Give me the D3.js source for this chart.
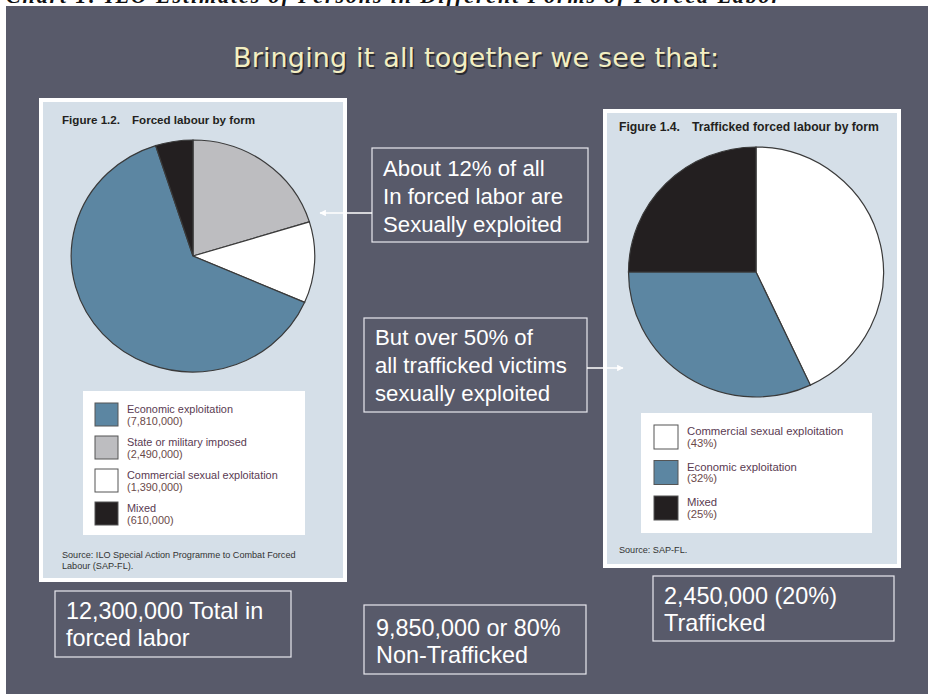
<!DOCTYPE html>
<html>
<head>
<meta charset="utf-8">
<script src="https://cdn.jsdelivr.net/npm/d3@7"></script>
<style>
  html, body { margin: 0; padding: 0; background: #fff; }
  svg { display: block; }
</style>
</head>
<body>
<svg id="slide" width="928" height="694"></svg>
<script>
// Figure 1.2 - forced labour by form (legend order)
const forcedCategories = ["Economic exploitation", "State or military imposed", "Commercial sexual exploitation", "Mixed"];
const forcedValues = [7810000, 2490000, 1390000, 610000];
const forcedLabels = ["(7,810,000)", "(2,490,000)", "(1,390,000)", "(610,000)"];
const forcedSliceOrder = [1, 2, 0, 3]; // clockwise from 12 o'clock

// Figure 1.4 - trafficked forced labour by form
const traffickedCategories = ["Commercial sexual exploitation", "Economic exploitation", "Mixed"];
const traffickedValues = [43, 32, 25];
const traffickedLabels = ["(43%)", "(32%)", "(25%)"];

const colorScale = d3.scaleOrdinal()
  .domain(["Economic exploitation", "State or military imposed", "Commercial sexual exploitation", "Mixed"])
  .range(["#5c86a2", "#bdbdc0", "#ffffff", "#231f20"]);

const svg = d3.select("#slide");

// cut-off heading strip above the slide
svg.append("text")
  .attr("x", 6).attr("y", 2.5)
  .attr("font-family", "Liberation Serif")
  .attr("font-weight", "bold").attr("font-style", "italic")
  .attr("font-size", 22)
  .attr("textLength", 774)
  .attr("fill", "#111")
  .text("Chart 1: ILO Estimates of Persons in Different Forms of Forced Labor");

// slide background
svg.append("rect")
  .attr("x", 6).attr("y", 6).attr("width", 922).attr("height", 688)
  .attr("fill", "#585a6a");

// slide title
svg.append("text")
  .attr("x", 476).attr("y", 67)
  .attr("text-anchor", "middle")
  .attr("font-family", "DejaVu Sans")
  .attr("font-size", 27)
  .attr("textLength", 486)
  .attr("fill", "#2a2a30")
  .attr("transform", "translate(1.5,1.5)")
  .text("Bringing it all together we see that:");
svg.append("text")
  .attr("x", 476).attr("y", 67)
  .attr("text-anchor", "middle")
  .attr("font-family", "DejaVu Sans")
  .attr("font-size", 27)
  .attr("textLength", 486)
  .attr("fill", "#f3efc2")
  .text("Bringing it all together we see that:");

function panel(x, y, w, h) {
  svg.append("rect").attr("x", x).attr("y", y).attr("width", w).attr("height", h).attr("fill", "#ffffff");
  svg.append("rect").attr("x", x + 4).attr("y", y + 4).attr("width", w - 8).attr("height", h - 8).attr("fill", "#d5dfe8");
}

function pieChart(cx, cy, r, sx, values, cats, order) {
  const data = order.map(i => ({ value: values[i], cat: cats[i] }));
  const arcs = d3.pie().sort(null).value(d => d.value)(data);
  const arc = d3.arc().innerRadius(0).outerRadius(r);
  const g = svg.append("g").attr("transform", `translate(${cx},${cy}) scale(${sx},1)`);
  g.selectAll("path")
    .data(arcs)
    .join("path")
    .attr("d", arc)
    .attr("fill", d => colorScale(d.data.cat))
    .attr("stroke", "#3a3a3a")
    .attr("stroke-width", 1.2)
    .attr("vector-effect", "non-scaling-stroke");
}

function legend(x, y, w, h, cats, labels, sx, sy, step, size, fs) {
  svg.append("rect").attr("x", x).attr("y", y).attr("width", w).attr("height", h).attr("fill", "#ffffff");
  const g = svg.append("g");
  const items = g.selectAll("g").data(cats).join("g")
    .attr("transform", (d, i) => `translate(${sx},${sy + i * step})`);
  items.append("rect")
    .attr("width", size).attr("height", size)
    .attr("fill", d => colorScale(d))
    .attr("stroke", "#555").attr("stroke-width", 1);
  items.append("text")
    .attr("x", size + 9).attr("y", 10)
    .attr("font-family", "Liberation Sans").attr("font-size", fs)
    .attr("fill", "#5a3b52")
    .text(d => d);
  items.append("text")
    .attr("x", size + 9).attr("y", 21.5)
    .attr("font-family", "Liberation Sans").attr("font-size", fs)
    .attr("fill", "#6b4a4a")
    .text((d, i) => labels[i]);
}

function figTitle(x, y, num, title, fs) {
  const t = svg.append("text")
    .attr("x", x).attr("y", y)
    .attr("font-family", "Liberation Sans").attr("font-weight", "bold")
    .attr("font-size", fs).attr("fill", "#231f20");
  t.append("tspan").text(num);
  t.append("tspan").attr("dx", 12).text(title);
}

// left figure
panel(39, 98, 308, 484);
figTitle(62, 124, "Figure 1.2.", "Forced labour by form", 11.6);
pieChart(193, 256, 116, 1.05, forcedValues, forcedCategories, forcedSliceOrder);
legend(83, 391, 222, 144, forcedCategories, forcedLabels, 95, 403, 33, 23, 10.9);
svg.append("text")
  .attr("font-family", "Liberation Sans").attr("font-size", 9.1).attr("fill", "#333")
  .selectAll("tspan")
  .data(["Source: ILO Special Action Programme to Combat Forced", "Labour (SAP-FL)."])
  .join("tspan")
  .attr("x", 62).attr("y", (d, i) => 558 + i * 11)
  .text(d => d);

// right figure
panel(603, 109, 298, 459);
figTitle(619, 131, "Figure 1.4.", "Trafficked forced labour by form", 12.2);
pieChart(756, 272, 125, 1.02, traffickedValues, traffickedCategories, [0, 1, 2]);
legend(641, 413, 231, 120, traffickedCategories, traffickedLabels, 654, 425, 35.5, 24, 11.3);
svg.append("text")
  .attr("x", 619).attr("y", 553)
  .attr("font-family", "Liberation Sans").attr("font-size", 9.1).attr("fill", "#333")
  .text("Source: SAP-FL.");

// callout boxes
function textBox(x, y, w, h, lines, tx, ty, lh, fs) {
  svg.append("rect")
    .attr("x", x).attr("y", y).attr("width", w).attr("height", h)
    .attr("fill", "none").attr("stroke", "#e8e8ee").attr("stroke-width", 1.2);
  svg.append("text")
    .attr("font-family", "Liberation Sans").attr("font-size", fs).attr("fill", "#ffffff")
    .selectAll("tspan").data(lines).join("tspan")
    .attr("x", tx).attr("y", (d, i) => ty + i * lh)
    .text(d => d);
}

textBox(372, 148, 216, 94, ["About 12% of all", "In forced labor are", "Sexually exploited"], 383, 176, 28, 22.2);
textBox(364, 318, 223, 94, ["But over 50% of", "all trafficked victims", "sexually exploited"], 375, 345, 28, 22.2);
textBox(55, 591, 236, 66, ["12,300,000 Total in", "forced labor"], 66, 619, 27, 23.4);
textBox(364, 605, 222, 69, ["9,850,000 or 80%", "Non-Trafficked"], 376, 636, 27, 23.4);
textBox(653, 576, 241, 65, ["2,450,000 (20%)", "Trafficked"], 664, 604, 27, 23.4);

// arrows
svg.append("defs").append("marker")
  .attr("id", "head").attr("viewBox", "0 0 10 10")
  .attr("refX", 9).attr("refY", 5)
  .attr("markerWidth", 5).attr("markerHeight", 5)
  .attr("orient", "auto")
  .append("path").attr("d", "M0,0 L10,5 L0,10 Z").attr("fill", "#ffffff");

svg.append("line")
  .attr("x1", 372).attr("y1", 213).attr("x2", 320).attr("y2", 213)
  .attr("stroke", "#ffffff").attr("stroke-width", 1.3)
  .attr("marker-end", "url(#head)");
svg.append("line")
  .attr("x1", 587).attr("y1", 368).attr("x2", 623).attr("y2", 368)
  .attr("stroke", "#ffffff").attr("stroke-width", 1.3)
  .attr("marker-end", "url(#head)");
</script>
</body>
</html>
